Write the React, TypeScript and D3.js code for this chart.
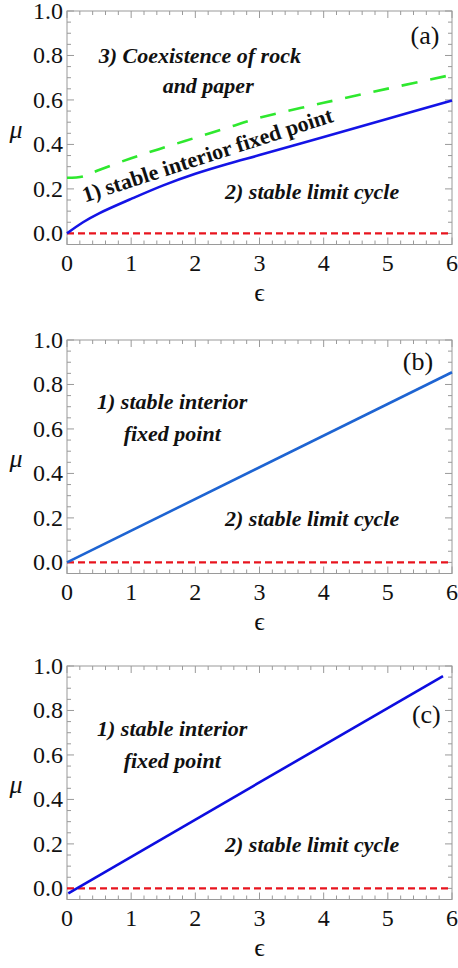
import React from "react";
import * as d3 from "d3";

// ---------- data ----------
const epsTicks = [0, 1, 2, 3, 4, 5, 6];
const muTicks = [0.0, 0.2, 0.4, 0.6, 0.8, 1.0];

// panel (a)
const epsA = [0, 0.25, 0.5, 1, 1.5, 2, 2.5, 3, 4, 5, 6];
const muStableA = [0, 0.05, 0.09, 0.155, 0.216, 0.268, 0.312, 0.352, 0.433, 0.515, 0.598];
const muCoexA = [0.25, 0.256, 0.285, 0.338, 0.385, 0.43, 0.475, 0.52, 0.587, 0.651, 0.713];
// panel (b)
const epsB = [0, 6];
const muB = [0, 0.855];
// panel (c)
const epsC = [0.02, 5.86];
const muC = [-0.022, 0.955];
// red line (all panels)
const epsZero = [0, 6];
const muZero = [0, 0];

const panelLabels = ["(a)", "(b)", "(c)"];

const W = 458;
const H = 968;
const X0 = 67;
const X1 = 452;
const serif = "Liberation Serif";
const frameColor = "#9a9a9a";

type Series = { eps: number[]; mu: number[]; color: string; width: number; dash?: string; curve?: boolean };
type Note = { text: string; eps: number; mu: number; anchor?: string; rotate?: number; italic?: boolean };

function Panel({ top, series, notes, label, labelPos }: { top: number; series: Series[]; notes: Note[]; label: string; labelPos: [number, number] }) {
  const y = d3.scaleLinear().domain([-0.05, 1.0]).range([top + 233.5, top]);
  const x = d3.scaleLinear().domain([0, 6]).range([X0, X1]);
  const yMin = y(-0.05);
  const yMax = y(1.0);
  const xMinorTicks = d3.range(0, 6.0001, 0.2);
  const yMinorTicks = d3.range(-0.05, 1.0001, 0.05);
  const txt = { fontFamily: serif, fill: "#111" } as React.CSSProperties;
  return (
    <g>
      <rect x={X0} y={yMax} width={X1 - X0} height={yMin - yMax} fill="none" stroke={frameColor} strokeWidth={1} />
      {xMinorTicks.map((t, i) => {
        const major = Math.abs(t - Math.round(t)) < 1e-6;
        const len = major ? 7 : 4;
        return (
          <g key={"xt" + i}>
            <line x1={x(t)} x2={x(t)} y1={yMin} y2={yMin - len} stroke={frameColor} strokeWidth={1} />
            <line x1={x(t)} x2={x(t)} y1={yMax} y2={yMax + len} stroke={frameColor} strokeWidth={1} />
          </g>
        );
      })}
      {yMinorTicks.map((t, i) => {
        const major = Math.abs(t * 5 - Math.round(t * 5)) < 1e-6;
        const len = major ? 7 : 4;
        return (
          <g key={"yt" + i}>
            <line x1={X0} x2={X0 + len} y1={y(t)} y2={y(t)} stroke={frameColor} strokeWidth={1} />
            <line x1={X1} x2={X1 - len} y1={y(t)} y2={y(t)} stroke={frameColor} strokeWidth={1} />
          </g>
        );
      })}
      {epsTicks.map((t) => (
        <text key={"xl" + t} x={x(t)} y={yMin + 26} textAnchor="middle" style={{ ...txt, fontSize: 24 }}>
          {t}
        </text>
      ))}
      {muTicks.map((t) => (
        <text key={"yl" + t} x={X0 - 4} y={y(t) + 8} textAnchor="end" style={{ ...txt, fontSize: 24 }}>
          {t.toFixed(1)}
        </text>
      ))}
      <text x={(X0 + X1) / 2} y={yMin + 56} textAnchor="middle" style={{ ...txt, fontSize: 26 }}>
        ϵ
      </text>
      <text x={16} y={y(0) - 95} textAnchor="middle" style={{ ...txt, fontSize: 26, fontStyle: "italic" }}>
        μ
      </text>
      {series.map((s, i) => {
        const line = d3
          .line<number>()
          .x((_, j) => x(s.eps[j]))
          .y((d) => y(d))
          .curve(s.curve ? d3.curveCatmullRom : d3.curveLinear);
        return (
          <path key={"s" + i} d={line(s.mu) || ""} fill="none" stroke={s.color} strokeWidth={s.width} strokeDasharray={s.dash} />
        );
      })}
      {notes.map((n, i) => {
        const px = x(n.eps);
        const py = y(n.mu);
        return (
          <text
            key={"n" + i}
            x={px}
            y={py}
            textAnchor={n.anchor || "middle"}
            style={{ ...txt, fontSize: 22, fontWeight: "bold", fontStyle: n.italic === false ? "normal" : "italic" }}
            transform={n.rotate ? `rotate(${n.rotate},${px},${py})` : undefined}
          >
            {n.text}
          </text>
        );
      })}
      <text x={x(labelPos[0])} y={y(labelPos[1])} textAnchor="middle" style={{ ...txt, fontSize: 26 }}>
        {label}
      </text>
    </g>
  );
}

export default function App() {
  const red: Series = { eps: epsZero, mu: muZero, color: "#e8141e", width: 2.2, dash: "7,4" };
  return (
    <svg width={W} height={H} style={{ position: "absolute", left: 0, top: 0, background: "#fff" }}>
      <Panel
        top={11}
        label={panelLabels[0]}
        labelPos={[5.58, 0.85]}
        series={[
          red,
          { eps: epsA, mu: muCoexA, color: "#2ee82e", width: 2.6, dash: "16,13", curve: true },
          { eps: epsA, mu: muStableA, color: "#1414e6", width: 2.6, curve: true },
        ]}
        notes={[
          { text: "3) Coexistence of rock", eps: 2.07, mu: 0.767 },
          { text: "and paper", eps: 2.2, mu: 0.633 },
          { text: "2) stable limit cycle", eps: 3.82, mu: 0.155 },
          { text: "1) stable interior fixed point", eps: 0.28, mu: 0.139, anchor: "start", rotate: -18, italic: false },
        ]}
      />
      <Panel
        top={340}
        label={panelLabels[1]}
        labelPos={[5.47, 0.866]}
        series={[red, { eps: epsB, mu: muB, color: "#1e64d2", width: 2.6 }]}
        notes={[
          { text: "1) stable interior", eps: 1.64, mu: 0.69 },
          { text: "fixed point", eps: 1.64, mu: 0.547 },
          { text: "2) stable limit cycle", eps: 3.82, mu: 0.162 },
        ]}
      />
      <Panel
        top={666}
        label={panelLabels[2]}
        labelPos={[5.6, 0.743]}
        series={[red, { eps: epsC, mu: muC, color: "#0d0de0", width: 2.6 }]}
        notes={[
          { text: "1) stable interior", eps: 1.64, mu: 0.685 },
          { text: "fixed point", eps: 1.64, mu: 0.541 },
          { text: "2) stable limit cycle", eps: 3.82, mu: 0.165 },
        ]}
      />
    </svg>
  );
}
